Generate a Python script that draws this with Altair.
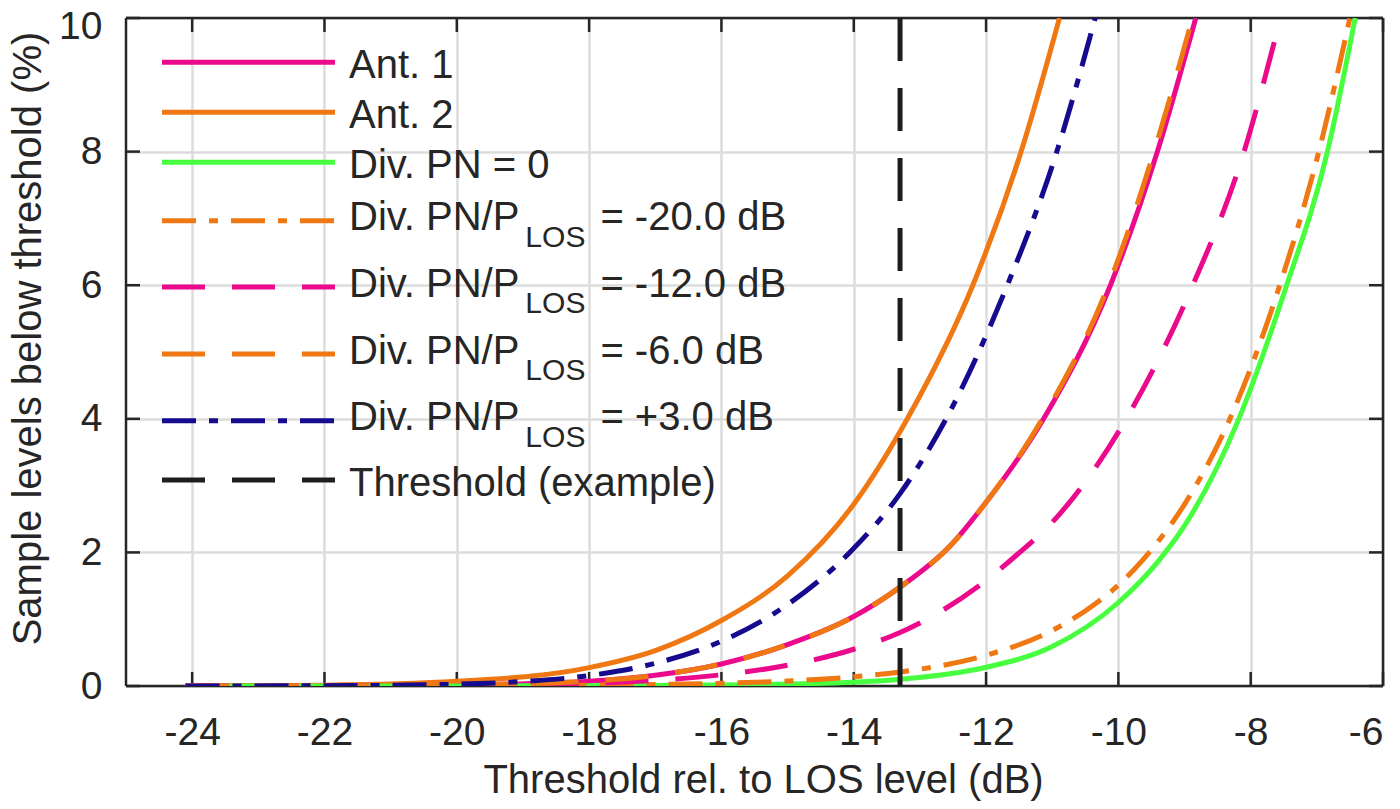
import altair as alt
import pandas as pd

# ---------------- data ----------------
x_ticks = [-24, -22, -20, -18, -16, -14, -12, -10, -8, -6]
y_ticks = [0, 2, 4, 6, 8, 10]

ant1_x = [-24.1, -22, -20, -18, -17, -16, -15, -14, -13.3, -12.54, -12, -11.13, -10.12, -9.41, -8.83]
ant1_y = [0, 0.003, 0.015, 0.072, 0.16, 0.33, 0.62, 1.04, 1.48, 2.1, 2.75, 4.0, 6.0, 8.0, 10.0]

ant2_x = [-24.1, -22, -20, -18, -17, -16, -15, -14, -13.19, -12.2, -11.47, -10.89]
ant2_y = [0, 0.012, 0.07, 0.275, 0.53, 0.98, 1.65, 2.72, 4.0, 6.0, 8.0, 10.0]

pn0_x = [-24.1, -22, -20, -18, -16, -14, -13.3, -12, -11, -10, -9.37, -9, -8.2, -7.49, -6.84, -6.42]
pn0_y = [0, 0.0003, 0.001, 0.004, 0.015, 0.056, 0.1, 0.28, 0.59, 1.25, 1.9, 2.4, 3.95, 5.9, 8.0, 10.0]

m20_x = [-24.1, -22, -20, -18, -16, -15, -14, -13.3, -12, -11, -10.42, -10, -9.62, -9, -8.35, -7.6, -6.97, -6.5]
m20_y = [0, 0.001, 0.004, 0.012, 0.041, 0.075, 0.137, 0.21, 0.46, 0.83, 1.18, 1.51, 1.9, 2.72, 3.92, 5.88, 8.0, 10.0]

m12_x = [-24.1, -22, -20, -18, -17, -16, -15, -14, -13.3, -12, -11.55, -11, -9.94, -8.91, -8.1, -7.55]
m12_y = [0, 0.001, 0.008, 0.039, 0.084, 0.168, 0.31, 0.55, 0.8, 1.58, 1.95, 2.45, 3.9, 5.92, 8.0, 10.0]

m6_x = [-24.1, -22, -20, -18, -17, -16, -15, -14, -13.3, -12.54, -12, -11.15, -10.15, -9.46, -8.88]
m6_y = [0, 0.003, 0.015, 0.072, 0.16, 0.33, 0.62, 1.04, 1.48, 2.1, 2.75, 4.0, 6.0, 8.0, 10.0]

p3_x = [-24.1, -22, -20, -19, -18, -17, -16, -15, -14.05, -13.3, -12.62, -11.72, -10.93, -10.35]
p3_y = [0, 0.004, 0.027, 0.067, 0.157, 0.34, 0.67, 1.22, 2.01, 2.88, 3.97, 5.9, 8.0, 10.0]

thr_x = [-13.3, -13.3]
thr_y = [10, 0]

legend_main = ["Ant. 1", "Ant. 2", "Div. PN = 0", "Div. PN/P", "Div. PN/P", "Div. PN/P", "Div. PN/P",
               "Threshold (example)"]
legend_sub = [None, None, None, "LOS", "LOS", "LOS", "LOS", None]
legend_rest = [None, None, None, "= -20.0 dB", "= -12.0 dB", "= -6.0 dB", "= +3.0 dB", None]

x_title = "Threshold rel. to LOS level (dB)"
y_title = "Sample levels below threshold (%)"

# ---------------- styles ----------------
FONT = "Liberation Sans, Arial, Helvetica, sans-serif"
TXT = "#262626"
PINK = "#EB0A8C"
ORANGE = "#F07812"
GREEN = "#47FF3F"
NAVY = "#160A8E"
BLACK = "#1E1E1E"
DASH = [43, 27]
DASHDOT = [34, 13, 9, 13]
LW = 5

W, H = 1257, 668

series = [
    (ant1_x, ant1_y, PINK, None),
    (ant2_x, ant2_y, ORANGE, None),
    (pn0_x, pn0_y, GREEN, None),
    (m20_x, m20_y, ORANGE, DASHDOT),
    (m12_x, m12_y, PINK, DASH),
    (m6_x, m6_y, ORANGE, DASH),
    (p3_x, p3_y, NAVY, DASHDOT),
    (thr_x, thr_y, BLACK, DASH),
]

x_axis = alt.Axis(values=x_ticks, grid=True, ticks=False, tickSize=0, domain=False,
                  labelExpr="'' + datum.value", labelFontSize=39, labelFont=FONT, labelColor=TXT,
                  labelBaseline="alphabetic", labelPadding=58,
                  title=x_title, titleFontSize=40, titleFont=FONT, titleColor=TXT,
                  titleFontWeight="normal", titleX=637, titleY=106, titleBaseline="alphabetic")
y_axis = alt.Axis(values=y_ticks, grid=True, ticks=False, tickSize=0, domain=False,
                  labelExpr="'' + datum.value", labelFontSize=39, labelFont=FONT, labelColor=TXT,
                  labelPadding=24,
                  labelOffset={"condition": {"test": "datum.value === 10", "value": 8}, "value": 0},
                  title=y_title, titleFontSize=40, titleFont=FONT, titleColor=TXT,
                  titleFontWeight="normal", titleX=-86, titleY=320, titleAngle=-90,
                  titleBaseline="alphabetic", titleAlign="center")

xs = alt.Scale(domain=[-25, -6], nice=False, zero=False)
ys = alt.Scale(domain=[0, 10], nice=False, zero=False)


def X():
    return alt.X("x:Q", scale=xs, axis=x_axis)


def Y():
    return alt.Y("y:Q", scale=ys, axis=y_axis)


one = pd.DataFrame({"k": [0]})
layers = []

# inward ticks on all four sides
xt = pd.DataFrame({"x": x_ticks})
yt = pd.DataFrame({"y": y_ticks})
tick_style = dict(color=TXT, strokeWidth=2.5)
layers.append(alt.Chart(xt).mark_rule(**tick_style).encode(x=X(), y=alt.value(H), y2=alt.value(H - 14)))
layers.append(alt.Chart(xt).mark_rule(**tick_style).encode(x=X(), y=alt.value(0), y2=alt.value(14)))
layers.append(alt.Chart(yt).mark_rule(**tick_style).encode(y=Y(), x=alt.value(0), x2=alt.value(14)))
layers.append(alt.Chart(yt).mark_rule(**tick_style).encode(y=Y(), x=alt.value(W), x2=alt.value(W - 14)))

# box
box_style = dict(color=TXT, strokeWidth=2.5)
layers.append(alt.Chart(one).mark_rule(**box_style).encode(x=alt.value(0), y=alt.value(0), y2=alt.value(H)))
layers.append(alt.Chart(one).mark_rule(**box_style).encode(x=alt.value(W), y=alt.value(0), y2=alt.value(H)))
layers.append(alt.Chart(one).mark_rule(**box_style).encode(y=alt.value(0), x=alt.value(0), x2=alt.value(W)))
layers.append(alt.Chart(one).mark_rule(**box_style).encode(y=alt.value(H), x=alt.value(0), x2=alt.value(W)))

# curves
for i, (sx, sy, col, dash) in enumerate(series):
    df = pd.DataFrame({"x": sx, "y": sy, "i": list(range(len(sx)))})
    kw = dict(color=col, strokeWidth=LW, clip=True, strokeCap="butt",
              interpolate="linear" if i == len(series) - 1 else "monotone")
    if dash:
        kw["strokeDash"] = dash
    layers.append(alt.Chart(df).mark_line(**kw).encode(x=X(), y=Y(), order="i:Q"))

# legend (custom, to allow subscripts)
ARIAL = {' ': 278, '.': 278, '/': 278, 'D': 722, 'i': 222, 'v': 500, 'P': 667, 'N': 722,
         'L': 556, 'O': 778, 'S': 667}


def tw(s, fs):
    return sum(ARIAL.get(c, 556) for c in s) * fs / 1000.0


LFS = 40
SFS = 30
line_y = [44.3, 94.3, 144.3, 202.7, 269.0, 336.0, 402.7, 462.0]
tx0 = 223
for k, (sx, sy, col, dash) in enumerate(series):
    kw = dict(color=col, strokeWidth=LW, strokeCap="butt")
    if dash:
        kw["strokeDash"] = dash
    ly = line_y[k]
    layers.append(alt.Chart(one).mark_rule(**kw).encode(x=alt.value(36), x2=alt.value(209), y=alt.value(ly)))
    tstyle = dict(align="left", baseline="alphabetic", font=FONT, color=TXT)
    if legend_sub[k] is None:
        layers.append(alt.Chart(one).mark_text(text=legend_main[k], fontSize=LFS, **tstyle)
                      .encode(x=alt.value(tx0), y=alt.value(ly + 16)))
    else:
        subx = tx0 + tw(legend_main[k], LFS) + 3
        restx = subx + tw(legend_sub[k], SFS) + 15
        layers.append(alt.Chart(one).mark_text(text=legend_main[k], fontSize=LFS, **tstyle)
                      .encode(x=alt.value(tx0), y=alt.value(ly + 9.5)))
        layers.append(alt.Chart(one).mark_text(text=legend_sub[k], fontSize=SFS, **tstyle)
                      .encode(x=alt.value(subx), y=alt.value(ly + 26)))
        layers.append(alt.Chart(one).mark_text(text=legend_rest[k], fontSize=LFS, **tstyle)
                      .encode(x=alt.value(restx), y=alt.value(ly + 9.5)))

chart = alt.layer(*layers).properties(
    width=W, height=H,
    padding={"left": 118, "top": 10, "right": 9, "bottom": 115},
    autosize=alt.AutoSizeParams(type="none"),
).configure_view(strokeWidth=0).configure_axis(gridColor="#DCDCDC", gridWidth=2.5)

chart.save("out.html", embed_options={"renderer": "svg", "actions": False})
